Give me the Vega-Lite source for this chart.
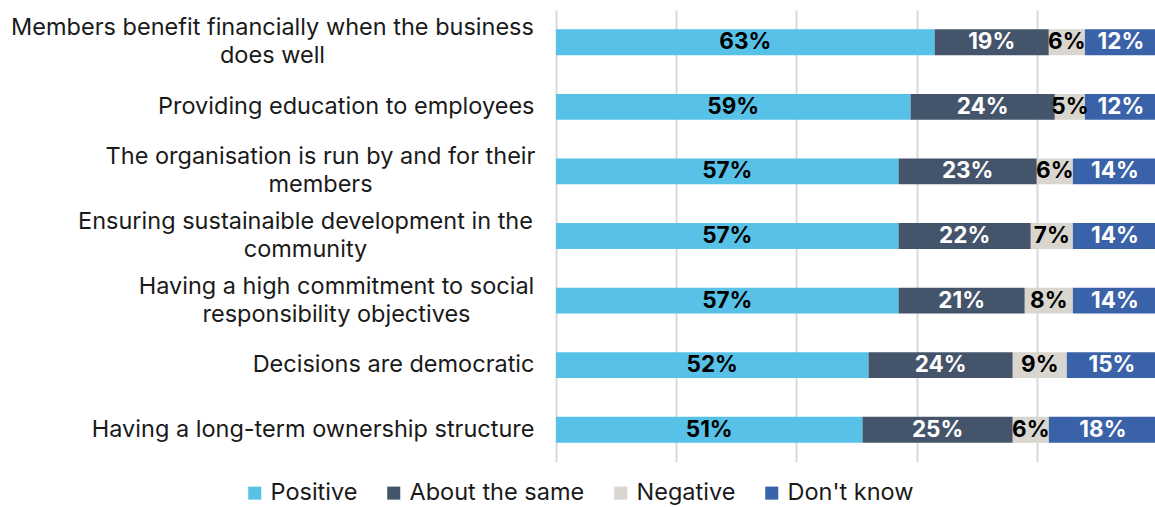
{
  "$schema": "https://vega.github.io/schema/vega-lite/v6.json",
  "width": 601,
  "height": 452,
  "padding": {"left": 10, "top": 10, "right": 0, "bottom": 5},
  "background": "white",
  "config": {"view": {"stroke": null}, "font": "Inter"},
  "data": {"values": [
    {"item": "Members benefit financially when the business|does well", "cat": "Positive", "value": 63, "order": 1},
    {"item": "Members benefit financially when the business|does well", "cat": "About the same", "value": 19, "order": 2},
    {"item": "Members benefit financially when the business|does well", "cat": "Negative", "value": 6, "order": 3},
    {"item": "Members benefit financially when the business|does well", "cat": "Don't know", "value": 12, "order": 4},
    {"item": "Providing education to employees", "cat": "Positive", "value": 59, "order": 1},
    {"item": "Providing education to employees", "cat": "About the same", "value": 24, "order": 2},
    {"item": "Providing education to employees", "cat": "Negative", "value": 5, "order": 3},
    {"item": "Providing education to employees", "cat": "Don't know", "value": 12, "order": 4},
    {"item": "The organisation is run by and for their|members", "cat": "Positive", "value": 57, "order": 1},
    {"item": "The organisation is run by and for their|members", "cat": "About the same", "value": 23, "order": 2},
    {"item": "The organisation is run by and for their|members", "cat": "Negative", "value": 6, "order": 3},
    {"item": "The organisation is run by and for their|members", "cat": "Don't know", "value": 14, "order": 4},
    {"item": "Ensuring sustainaible development in the|community", "cat": "Positive", "value": 57, "order": 1},
    {"item": "Ensuring sustainaible development in the|community", "cat": "About the same", "value": 22, "order": 2},
    {"item": "Ensuring sustainaible development in the|community", "cat": "Negative", "value": 7, "order": 3},
    {"item": "Ensuring sustainaible development in the|community", "cat": "Don't know", "value": 14, "order": 4},
    {"item": "Having a high commitment to social|responsibility objectives", "cat": "Positive", "value": 57, "order": 1},
    {"item": "Having a high commitment to social|responsibility objectives", "cat": "About the same", "value": 21, "order": 2},
    {"item": "Having a high commitment to social|responsibility objectives", "cat": "Negative", "value": 8, "order": 3},
    {"item": "Having a high commitment to social|responsibility objectives", "cat": "Don't know", "value": 14, "order": 4},
    {"item": "Decisions are democratic", "cat": "Positive", "value": 52, "order": 1},
    {"item": "Decisions are democratic", "cat": "About the same", "value": 24, "order": 2},
    {"item": "Decisions are democratic", "cat": "Negative", "value": 9, "order": 3},
    {"item": "Decisions are democratic", "cat": "Don't know", "value": 15, "order": 4},
    {"item": "Having a long-term ownership structure", "cat": "Positive", "value": 51, "order": 1},
    {"item": "Having a long-term ownership structure", "cat": "About the same", "value": 25, "order": 2},
    {"item": "Having a long-term ownership structure", "cat": "Negative", "value": 6, "order": 3},
    {"item": "Having a long-term ownership structure", "cat": "Don't know", "value": 18, "order": 4}
  ]},
  "transform": [
    {"stack": "value", "groupby": ["item"], "sort": [{"field": "order"}], "as": ["v0", "v1"]},
    {"calculate": "(datum.v0 + datum.v1) / 2", "as": "mid"},
    {"calculate": "datum.value + '%'", "as": "lbl"}
  ],
  "encoding": {
    "y": {
      "field": "item", "type": "nominal", "sort": null,
      "scale": {"paddingInner": 0.6, "paddingOuter": 0.3},
      "axis": {
        "title": null, "domain": false, "ticks": false,
        "labelExpr": "split(datum.value, '|')",
        "labelFontSize": 23.5, "labelColor": "#1a1a1a",
        "labelAlign": {"condition": {"test": "indexof(datum.value, '|') >= 0", "value": "center"}, "value": "right"},
        "labelPadding": {"condition": [
          {"test": "indexof(datum.value, 'Members') == 0", "value": 284},
          {"test": "indexof(datum.value, 'The organisation') == 0", "value": 236},
          {"test": "indexof(datum.value, 'Ensuring') == 0", "value": 251},
          {"test": "indexof(datum.value, 'Having a high') == 0", "value": 220}
        ], "value": 22},
        "labelOffset": {"condition": {"test": "indexof(datum.value, '|') >= 0", "value": -14}, "value": 0},
        "labelLineHeight": 28, "labelLimit": 700
      }
    }
  },
  "layer": [
    {
      "mark": {"type": "bar"},
      "encoding": {
        "x": {
          "field": "v0", "type": "quantitative",
          "scale": {"domain": [0, 100], "nice": false},
          "axis": {"title": null, "labels": false, "ticks": false, "domain": false,
                   "values": [0, 20, 40, 60, 80, 100], "gridColor": "#d9d9d9", "gridWidth": 2}
        },
        "x2": {"field": "v1"},
        "color": {
          "field": "cat", "type": "nominal",
          "scale": {"domain": ["Positive", "About the same", "Negative", "Don't know"],
                    "range": ["#57c1e8", "#44546a", "#d9d5cf", "#3a62a8"]},
          "legend": {
            "title": null, "orient": "none", "direction": "horizontal",
            "legendX": -313, "legendY": 471,
            "symbolType": "square", "symbolSize": 170, "symbolStrokeWidth": 0,
            "labelFontSize": 23.5, "labelColor": "#1a1a1a", "columnPadding": 24,
            "symbolOffset": 0, "labelOffset": 4, "labelLimit": 300
          }
        }
      }
    },
    {
      "mark": {"type": "text", "fontSize": 22.5, "fontWeight": "bold", "baseline": "middle"},
      "encoding": {
        "x": {"field": "mid", "type": "quantitative"},
        "text": {"field": "lbl", "type": "nominal"},
        "color": {
          "condition": {"test": "datum.cat === 'Positive' || datum.cat === 'Negative'", "value": "#000000"},
          "value": "#ffffff"
        }
      }
    }
  ]
}
